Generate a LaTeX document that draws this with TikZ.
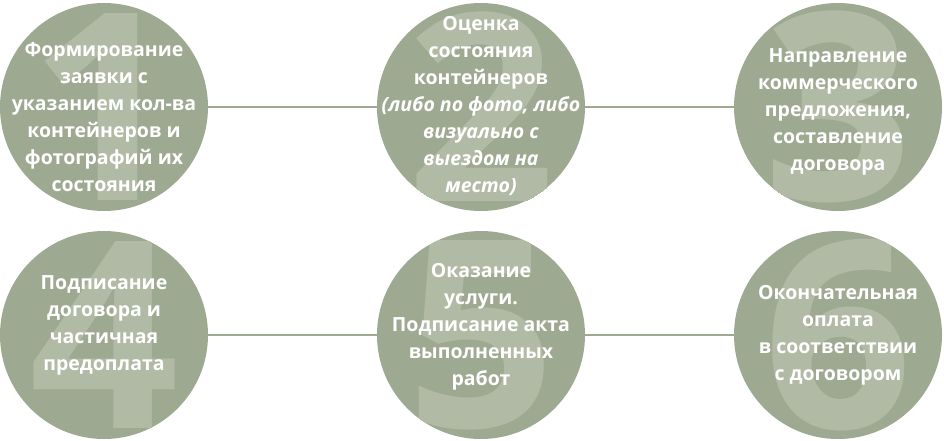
\documentclass[tikz,border=0pt]{standalone}
\usepackage{fontspec}
\setmainfont{Open Sans}
\usepackage{tikz}

\definecolor{sage}{RGB}{158,169,145}
\definecolor{sagelight}{RGB}{176,186,165}
\newcommand{\remark}[1]{{\fontsize{19.5}{27}\selectfont\itshape #1}}

\begin{document}
\begin{tikzpicture} [
        x = 1pt, y = -1pt,
        stepcircle/.style = {circle, fill=sage, minimum size=208pt, inner sep=0pt,
                     path picture={\node[digit] at (path picture bounding box.center) {#1};}},
        digit/.style = {text=sagelight, inner sep=0pt,
                     font=\fontsize{262}{262}\selectfont\bfseries},
        steptext/.style = {align=center, text=white, inner sep=0pt,
                     font=\fontsize{19.5}{27}\selectfont\bfseries},
        link/.style = {draw=sage, line width=1.5pt}
    ]
    \useasboundingbox (0,0) rectangle (944,440);

    % circles
    \node (s1) [stepcircle=1] at (104,107) {};
    \node (s2) [stepcircle=2] at (481,107) {};
    \node (s3) [stepcircle=3] at (838,107) {};
    \node (s4) [stepcircle=4] at (104,335) {};
    \node (s5) [stepcircle=5] at (481,335) {};
    \node (s6) [stepcircle=6] at (838,335) {};

    % connectors
    \draw[link] (s1) -- (s2);
    \draw[link] (s2) -- (s3);
    \draw[link] (s4) -- (s5);
    \draw[link] (s5) -- (s6);

    % texts
    \node (t1) [steptext] at ([yshift=-10pt]s1.center) {Формирование\\ заявки с\\ указанием кол-ва\\ контейнеров и\\ фотографий их\\ состояния};
    \node (t2) [steptext] at ([yshift=1pt]s2.center) {Оценка\\ состояния\\ контейнеров\\
        \remark{(либо по фото, либо}\\ \remark{визуально с}\\ \remark{выездом на}\\ \remark{место)}};
    \node (t3) [steptext] at ([yshift=-5pt]s3.center) {Направление\\ коммерческого\\ предложения,\\ составление\\ договора};
    \node (t4) [steptext] at ([yshift=10pt]s4.center) {Подписание\\ договора и\\ частичная\\ предоплата};
    \node (t5) [steptext] at ([yshift=8pt]s5.center) {Оказание\\ услуги.\\ Подписание акта\\ выполненных\\ работ};
    \node (t6) [steptext] at (s6.center) {Окончательная\\ оплата\\ в соответствии\\ с договором};

\end{tikzpicture}
\end{document}
